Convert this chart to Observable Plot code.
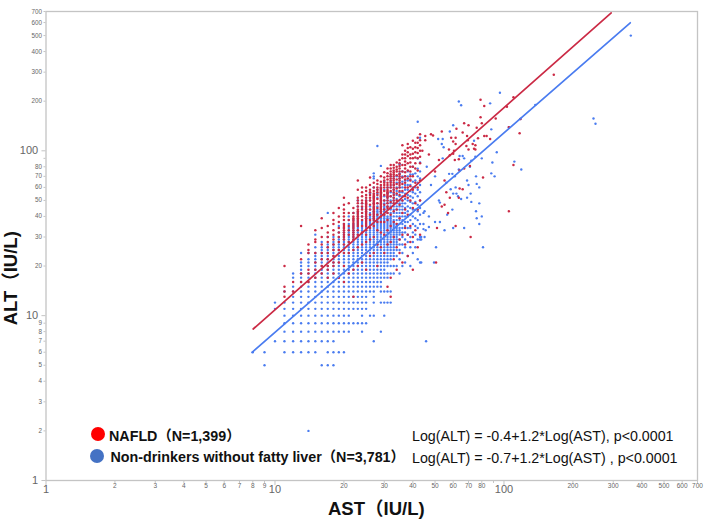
<!DOCTYPE html>
<html><head><meta charset="utf-8">
<script src="https://cdn.jsdelivr.net/npm/d3@7"></script>
<script src="https://cdn.jsdelivr.net/npm/@observablehq/plot@0.6"></script>
<style>
html,body{margin:0;padding:0;background:#fff}
#wrap{position:relative;width:708px;height:520px;font-family:"Liberation Sans",Arial,"Noto Sans CJK SC",sans-serif;color:#111}
#wrap svg{display:block}
.t{position:absolute;white-space:nowrap;line-height:1}
.b{font-weight:700;font-size:14.3px}
.e{font-size:14.25px}
.c{position:absolute;width:14px;height:14px;border-radius:50%}
</style></head><body><div id="wrap"></div>
<script>
// Legend and equation text
const legendRed = "NAFLD（N=1,399）";
const legendBlue = "Non-drinkers without fatty liver（N=3,781）";
const equationRed = "Log(ALT) = -0.4+1.2*Log(AST), p<0.0001";
const equationBlue = "Log(ALT) = -0.7+1.2*Log(AST) , p<0.0001";

// Tick values
const majorTicks = [1, 10, 100];
const minorTicks = [2,3,4,5,6,7,8,9,20,30,40,50,60,70,80,90,200,300,400,500,600,700];
const unlabeled = [90];

// Regression lines as [AST, ALT]
const redLine = [[8.03, 8.3], [294, 686]];
const blueLine = [[7.94, 5.99], [356, 598]];

// Integer-valued columns: [AST, [ALT values]]
const redColumns = [
[11,[13,14,15,20]],[12,[14,16]],
[13,[16,18,22,35]],[14,[16,18,19,24,25,27]],[15,[17,19,21,24,28,29,33]],
[16,[18,20,22,24,27,30,34,39]],[17,[17,19,20,22,24,26,28,30,32,35]],
[18,[18,20,21,23,25,27,29,31,33,36,38,42]],
[19,[17,21,25,28,30,32,34,37,40,45]],
[20,[16,20,24,27,29,30,31,32,33,34,35,36,38,40,42,44,47,52]],
[21,[18,24,28,31,33,35,38,42,48]],
[22,[13,19,25,29,30,31,32,33,34,35,36,37,38,39,40,42,45]],
[23,[20,26,31,33,35,36,37,38,39,40,41,42,43,44,46,48,50,52,58,66]],
[24,[21,27,32,35,38,40,42,44,46,48,50,53,56,60]],
[25,[19,24,28,31,33,35,36,37,38,39,40,41,42,43,44,45,46,47,48,49,50,52,54,57,60]],
[26,[23,29,34,38,41,44,47,50,52,54,56,58,62,69]],
[27,[24,30,35,38,39,40,41,42,43,44,45,46,47,48,49,50,51,52,53,54,55,57,60,64]],
[28,[20,27,33,37,41,45,48,51,54,56,58,60,63,66]],
[29,[26,32,37,40,42,43,44,45,46,47,48,49,50,51,52,53,54,55,56,57,58,59,60,62,65,70]],
[30,[24,31,37,41,44,47,50,54,57,60,62,64,66,69,74]],
[31,[15,27,33,38,42,45,46,48,50,52,53,54,55,56,57,58,60,62,64,67,70,73,78]],
[32,[13,17,28,35,41,45,49,53,57,60,62,64,66,68,70,72,75,78,82]],
[33,[22,30,37,43,48,50,52,54,56,58,60,62,64,66,68,70,72,74,76,79,82]],
[34,[19,26,36,44,50,55,59,63,67,71,75,77,80,85]],
[35,[24,29,39,47,54,57,60,62,64,66,68,70,72,75,78,81,84,88]],
[36,[21,31,42,50,57,63,69,75,82,90,95,108]],
[37,[27,34,44,53,60,64,67,70,74,78,82,86,90,95,100]],
[38,[23,31,41,52,60,68,76,84,93,98,104,110]],
[39,[28,35,50,61,66,70,75,80,85,90,95,105]],
[40,[19,30,45,58,70,80,90,96,103,115]],
[41,[33,48,64,78,84,91,98,105,112]],
[42,[26,44,60,76,90,97,104,112,120]],
[43,[31,50,66,84,92,100,108,116,126]]
];
const blueColumns = [
[8,[6]],[9,[5,6]],[10,[7,11,12]],[11,[6,7,8,9,10,11,12,14]],
[12,[6,7,8,9,10,11,12,13,14,15,17,18]],
[13,[6,7,8,9,10,11,12,13,14,15,16,17,18,19,20,21,24]],
[14,[6,7,8,9,10,11,12,13,14,15,16,17,18,20,21,22,24]],
[15,[6,7,8,9,10,11,12,13,14,15,16,17,18,19,20,21,22,23,24,26,31]],
[16,[5,7,8,9,10,11,12,13,14,15,16,17,18,19,20,21,22,23,24,25,26,28]],
[17,[5,6,7,8,9,10,11,12,13,14,15,16,17,18,19,20,21,22,23,24,25,26,27,30,42]],
[18,[5,6,7,8,9,10,11,12,13,14,15,16,17,18,19,20,21,22,23,24,25,26,27,28,30]],
[19,[6,8,9,10,11,12,13,14,15,16,17,18,19,20,21,22,23,24,25,26,27,28,29,30,32,35]],
[20,[6,8,9,10,11,12,13,14,15,16,17,18,19,20,21,22,23,24,25,26,27,28,29,30,31,32,34,36]],
[21,[8,9,10,11,12,13,14,15,16,17,18,19,20,21,22,23,24,25,26,27,28,29,30,31,32,33,34,36,38,40]],
[22,[9,11,12,13,14,15,16,17,18,19,20,21,22,23,24,25,26,27,28,29,30,31,32,33,34,35,36,38,42]],
[23,[9,11,12,13,14,15,16,17,18,19,20,21,22,23,24,25,26,27,28,29,30,31,32,33,34,35,36,37,38,40,42,46,50]],
[24,[8,9,10,11,12,13,14,15,16,17,18,19,20,21,22,23,24,25,26,27,28,29,30,31,32,33,34,35,36,37,38,40,42,45,48]],
[25,[9,11,12,13,14,15,16,17,18,19,20,21,22,23,24,25,26,27,28,29,30,31,32,33,34,35,36,37,38,39,40,42,44,47,50]],
[26,[10,14,15,16,17,18,19,20,21,22,23,24,25,26,27,28,29,30,31,32,33,34,35,36,37,38,39,40,41,42,44,46,50,55]],
[27,[7,10,12,13,14,15,16,17,18,19,20,21,22,23,24,25,26,27,28,29,30,31,32,33,34,35,36,37,38,39,40,41,42,43,45,48,52,60,68,70,73]],
[28,[15,16,17,18,19,20,21,22,23,24,25,26,27,28,29,30,31,32,33,34,35,36,37,38,39,40,41,42,43,44,46,48,52,55,58,107]],
[29,[8,12,14,15,16,17,18,19,20,21,22,23,24,25,26,27,28,29,30,31,32,33,34,35,36,37,38,39,40,41,42,43,44,45,47,50,54,60,81]],
[30,[10,12,14,17,18,19,20,21,22,23,24,25,26,27,28,29,30,31,32,33,34,35,36,37,38,39,40,41,42,43,44,45,46,48,50,53,58,65]],
[31,[12,14,17,18,20,21,22,23,24,25,26,27,28,29,30,31,32,33,34,35,36,37,38,39,40,42,44,46,48,50,52,55,60]],
[32,[12,14,18,20,22,23,24,25,26,27,28,29,30,31,32,33,34,35,36,37,38,39,40,42,44,46,48,50,53,56,60,65,70]],
[33,[18,20,23,24,25,26,27,28,29,30,31,32,33,34,35,36,37,38,40,42,44,46,48,50,52,55,58,62,68]],
[34,[20,23,25,27,28,29,30,31,32,33,34,35,36,38,40,42,44,46,48,51,54,57,60,64,70]],
[35,[18,22,25,27,29,31,32,33,34,36,38,40,42,44,46,48,50,53,56,60,64,68,73,83]],
[36,[20,24,27,30,32,34,36,38,40,42,44,46,48,50,53,56,60,65,70,75]],
[37,[21,26,29,32,35,37,40,42,45,48,51,55,58,62,66,70]],
[38,[23,28,31,34,37,40,43,46,50,54,58,62,66,70,75]],
[39,[20,26,30,34,38,41,45,49,53,57,62,67,72]],
[40,[24,28,32,36,40,44,48,52,56,60,65,72,80]],
[41,[26,31,35,39,44,49,55,60,66,73]],
[42,[22,29,34,38,43,47,53,58,64,70,78,90,150]],
[43,[21,29,30,36,41,45,50,56,62,68,75,85,120]]
];

// Sparse points beyond the columns: AST and ALT lists
const redAst = [165,79,82,110,103,79,80,92,118,105,117,67,70,62,76,53.5,66,69,82,84,87,77,48,49,45.3,45.3,58.8,61.5,60,61.5,69.5,74,75,73,75,68.5,70,110,81,64,67,58,60,57.5,60.5,63.5,61,71,105,61.5,51,71.5,50.5,53.5,55,58,56,66,64,63.5,47,44,50,52,55,57];
const redAlt = [289,204,187,211,185,160,147,157,156,139,128,147,143,136,138,131,129,123,123,123,118,119,126,124,123,116,120,120,114,110,116,103,102,110,108,107,102,82,69,76,78,94,96,102,100,89,88,81,43,35,34,30,21,46,47,52,56,58.5,59,52,95,100,75,88,66,42];
const blueAst = [358,246,251,96,63.5,65,87,137,118,105,88,60,58,51.6,54,53.5,54.5,74,93,111,89,119,88,91,80,75.5,69,70,76,78,71.5,69,57.6,59.5,61,64,66,67,72,75,71,63.5,78,75.5,80,76,78,72,67,60,55,47,50,52.5,44.5,44.5,45.5,43.5,43.5,81,50.5,43.5,49.5,59.5,56.5,52.5,45,44.5,65,63,60,62,58.5,61.5,45.7,14,46,48,50,54,52,56,47,45];
const blueAlt = [500,157,146,225,199,189,194,190,156,139,135,143,131,118,118,110,105,115,98,86,85,77,73,70,90,70,66,62,63,60,55,52,72.5,72.5,70,93,93,90,87,92,80,77,48,43,40,39,36,49,34,34,33,34.5,37,37,36,33.5,33,30,29,26,26,21,21,44,41,48.5,43,42,51,53,55,55,58.5,60,7,2,80,62,70,90,50,64,40,30];

const redPts = [...redColumns.flatMap(([a, vs]) => vs.map(v => [a, v])), ...redAst.map((a, i) => [a, redAlt[i]])];
const bluePts = [...blueColumns.flatMap(([a, vs]) => vs.map(v => [a, v])), ...blueAst.map((a, i) => [a, blueAlt[i]])];

const RED = "#cb2a45", BLUE = "#4a7cf0", AXIS = "#c4c4c4", TICKTEXT = "#666";
const labelled = minorTicks.filter(d => !unlabeled.includes(d));

const chart = Plot.plot({
  width: 708, height: 520,
  marginLeft: 45.5, marginRight: 11, marginTop: 11, marginBottom: 40,
  style: {fontFamily: '"Liberation Sans",Arial,sans-serif', background: "#fff"},
  x: {type: "log", domain: [1, 700], axis: null},
  y: {type: "log", domain: [1, 700], axis: null},
  marks: [
    Plot.frame({stroke: AXIS, strokeWidth: 1.3}),
    // Short tick strokes hanging just outside the frame
    Plot.ruleX(minorTicks, {x: d => d, y1: 1, y2: 0.96, stroke: AXIS}),
    Plot.ruleX(majorTicks, {x: d => d, y1: 1, y2: 0.93, stroke: AXIS}),
    Plot.ruleY(minorTicks, {y: d => d, x1: 1, x2: 0.98, stroke: AXIS}),
    Plot.ruleY(majorTicks, {y: d => d, x1: 1, x2: 0.96, stroke: AXIS}),
    Plot.text(labelled, {x: d => d, text: d => String(d), frameAnchor: "bottom", lineAnchor: "top", dy: 2.5, fontSize: 6.5, fill: TICKTEXT}),
    Plot.text(majorTicks, {x: d => d, text: d => String(d), frameAnchor: "bottom", lineAnchor: "top", dy: 5, fontSize: 11, fill: TICKTEXT}),
    Plot.text(labelled, {y: d => d, text: d => String(d), frameAnchor: "left", textAnchor: "end", dx: -4, fontSize: 6.3, fill: TICKTEXT}),
    Plot.text(majorTicks, {y: d => d, text: d => String(d), frameAnchor: "left", textAnchor: "end", dx: -7.8, fontSize: 11, fill: TICKTEXT}),
    Plot.dot(bluePts, {x: d => d[0], y: d => d[1], r: 1.2, fill: BLUE, stroke: "none"}),
    Plot.dot(redPts, {x: d => d[0], y: d => d[1], r: 1.25, fill: RED, stroke: "none"}),
    Plot.line(redLine, {x: d => d[0], y: d => d[1], stroke: RED, strokeWidth: 1.7}),
    Plot.line(blueLine, {x: d => d[0], y: d => d[1], stroke: BLUE, strokeWidth: 1.7})
  ]
});
const wrap = document.getElementById("wrap");
wrap.appendChild(chart);
function put(cls, text, left, top, extra) {
  const el = document.createElement("div");
  el.className = "t " + cls; el.textContent = text;
  el.style.left = left + "px"; el.style.top = top + "px";
  if (extra) el.style.cssText += extra;
  wrap.appendChild(el);
}
function disc(color, left, top) {
  const el = document.createElement("div");
  el.className = "c"; el.style.background = color;
  el.style.left = left + "px"; el.style.top = top + "px";
  wrap.appendChild(el);
}
disc("#ff0000", 91, 427);
disc("#4472c4", 90, 449);
put("b", legendRed, 109, 429);
put("b", legendBlue, 110.5, 450);
put("e", equationRed, 412, 429);
put("e", equationBlue, 412, 451);
put("b", "AST（IU/L)", 328, 500, "font-size:18.5px");
put("b", "ALT（IU/L)", -39, 269, "font-size:18.5px;transform:rotate(-90deg);width:100px;text-align:center");
</script></body></html>
